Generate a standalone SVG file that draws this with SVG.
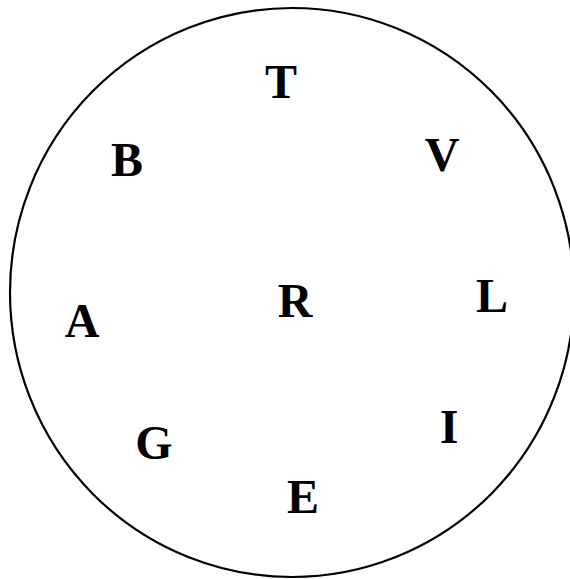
<svg xmlns="http://www.w3.org/2000/svg" width="570" height="579" viewBox="0 0 570 579">
<style>
.lbl{font-family:"Liberation Serif","Times New Roman",serif;font-weight:bold;font-size:48px;fill:#000;text-anchor:middle}
</style>
<rect width="570" height="579" fill="#fff"/>
<g id="boundary"><ellipse cx="292" cy="292.5" rx="282" ry="284.5" fill="none" stroke="#000" stroke-width="2.2"/></g>
<g id="T"><text class="lbl" x="281" y="98">T</text></g>
<g id="B"><text class="lbl" x="127" y="176">B</text></g>
<g id="V"><text class="lbl" x="442" y="171">V</text></g>
<g id="L"><text class="lbl" x="492" y="312">L</text></g>
<g id="R"><text class="lbl" x="295" y="317">R</text></g>
<g id="A"><text class="lbl" x="82" y="337">A</text></g>
<g id="G"><text class="lbl" x="154" y="459">G</text></g>
<g id="I"><text class="lbl" x="449" y="443">I</text></g>
<g id="E"><text class="lbl" x="303" y="513">E</text></g>
<g id="connectors"></g>
</svg>
